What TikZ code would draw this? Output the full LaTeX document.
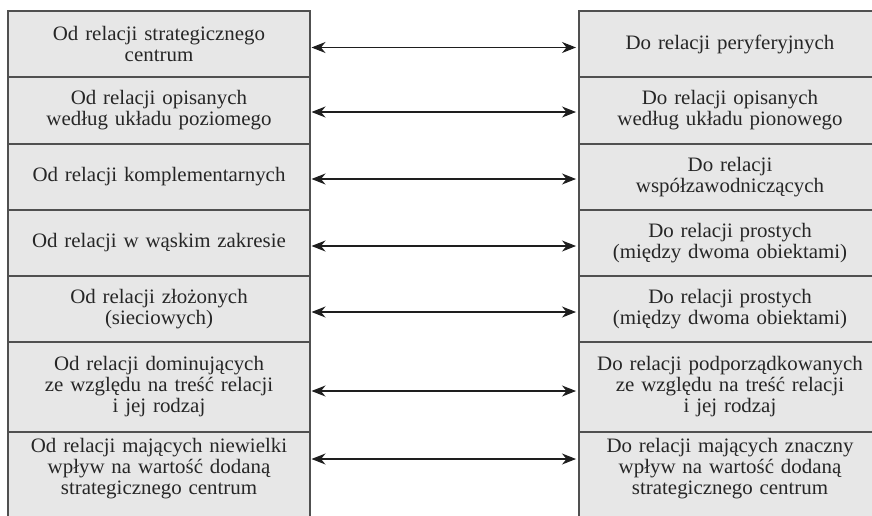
\documentclass[tikz,border=0pt]{standalone}
\usepackage{fontspec}
\newfontfamily\boxfont{Liberation Serif}[FakeStretch=1.02]
\usetikzlibrary{arrows.meta}
\definecolor{boxfill}{RGB}{231,231,231}
\definecolor{boxline}{RGB}{80,80,80}
\definecolor{arrowcol}{RGB}{30,30,30}
\tikzset{
  rowbox/.style={draw=boxline, fill=boxfill, line width=1.2pt, minimum width=302pt,
    text width=298pt, align=center, anchor=north west, inner sep=0pt, outer sep=0pt,
    font=\boxfont\fontsize{20.5pt}{21pt}\selectfont, text=black!85},
  link/.style={arrowcol, line width=1.1pt,
    {Stealth[length=14pt,width=11pt,inset=4.5pt]}-{Stealth[length=14pt,width=11pt,inset=4.5pt]},
    shorten <=1.5pt, shorten >=3pt}
}
\begin{document}
\begin{tikzpicture}[x=1pt,y=-1pt]
\useasboundingbox (0,0) rectangle (872,515);
\clip (0,0) rectangle (872,515);
% left column
\node[rowbox, minimum height=66pt] (L1) at (8,11) {Od relacji strategicznego\\centrum};
\node[rowbox, minimum height=67pt] (L2) at (8,77) {Od relacji opisanych\\według układu poziomego};
\node[rowbox, minimum height=66pt] (L3) at (8,144) {Od relacji komplementarnych};
\node[rowbox, minimum height=66pt] (L4) at (8,210) {Od relacji w wąskim zakresie};
\node[rowbox, minimum height=66pt] (L5) at (8,276) {Od relacji złożonych\\(sieciowych)};
\node[rowbox, minimum height=90pt] (L6) at (8,342) {Od relacji dominujących\\ze względu na treść relacji\\i jej rodzaj};
\node[rowbox, text height=20pt, text depth=100pt] (L7) at (8,432) {Od relacji mających niewielki\\wpływ na wartość dodaną\\strategicznego centrum};
% right column
\node[rowbox, minimum height=66pt] (R1) at (579,11) {Do relacji peryferyjnych};
\node[rowbox, minimum height=67pt] (R2) at (579,77) {Do relacji opisanych\\według układu pionowego};
\node[rowbox, minimum height=66pt] (R3) at (579,144) {Do relacji\\współzawodniczących};
\node[rowbox, minimum height=66pt] (R4) at (579,210) {Do relacji prostych\\(między dwoma obiektami)};
\node[rowbox, minimum height=66pt] (R5) at (579,276) {Do relacji prostych\\(między dwoma obiektami)};
\node[rowbox, minimum height=90pt] (R6) at (579,342) {Do relacji podporządkowanych\\ze względu na treść relacji\\i jej rodzaj};
\node[rowbox, text height=20pt, text depth=100pt] (R7) at (579,432) {Do relacji mających znaczny\\wpływ na wartość dodaną\\strategicznego centrum};
% connectors
\draw[link] ([yshift=-3.5pt]L1.east) -- ([yshift=-3.5pt]R1.west);
\draw[link] ([yshift=-1.5pt]L2.east) -- ([yshift=-1.5pt]R2.west);
\draw[link] ([yshift=-2pt]L3.east) -- ([yshift=-2pt]R3.west);
\draw[link] ([yshift=-3pt]L4.east) -- ([yshift=-3pt]R4.west);
\draw[link] ([yshift=-3pt]L5.east) -- ([yshift=-3pt]R5.west);
\draw[link] ([yshift=-4pt]L6.east) -- ([yshift=-4pt]R6.west);
\draw[link] ([yshift=-7pt]L7.base east) -- ([yshift=-7pt]R7.base west);
\end{tikzpicture}
\end{document}
